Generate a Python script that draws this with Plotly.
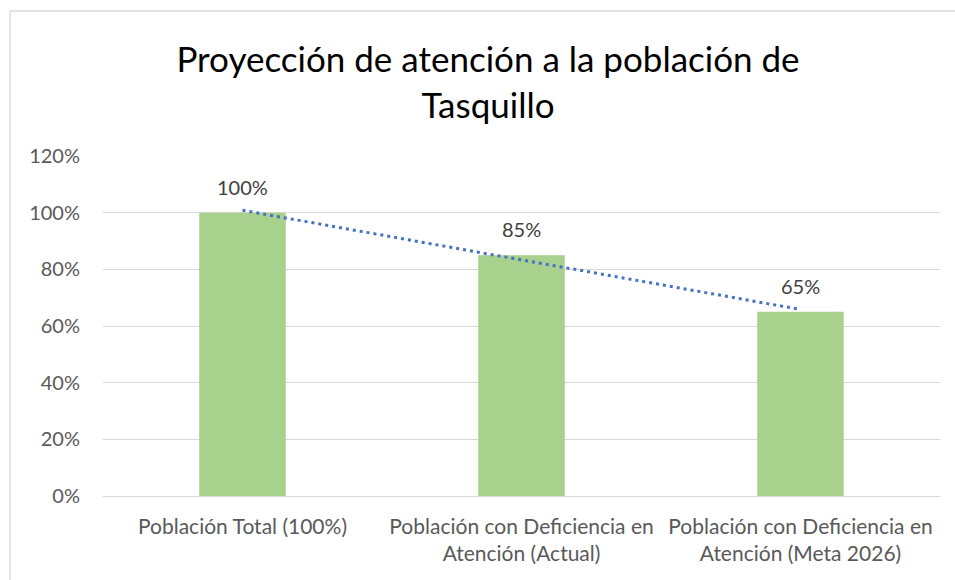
import numpy as np
import plotly.graph_objects as go

categories = [
    "Población Total (100%)",
    "Población con Deficiencia en<br>Atención (Actual)",
    "Población con Deficiencia en<br>Atención (Meta 2026)",
]
values = [1.00, 0.85, 0.65]
value_labels = ["100%", "85%", "65%"]
y_ticks = [0, 0.2, 0.4, 0.6, 0.8, 1.0, 1.2]
y_tick_labels = ["0%", "20%", "40%", "60%", "80%", "100%", "120%"]
title_text = "Proyección de atención a la población de<br>Tasquillo"

# linear trendline (least squares) through the bar values
xi = np.arange(1, len(values) + 1)
slope, intercept = np.polyfit(xi, values, 1)
trend = list(slope * xi + intercept)

FONT = "Lato"
fig = go.Figure()
fig.add_trace(go.Bar(
    x=categories, y=values,
    marker=dict(color="#A9D18E", line=dict(width=0)),
    width=0.31, hoverinfo="skip",
))
fig.add_trace(go.Scatter(
    x=categories, y=trend, mode="lines",
    line=dict(color="#4472C4", width=3, dash="3px,4px"),
    hoverinfo="skip",
))
for c, v, t in zip(categories, values, value_labels):
    fig.add_annotation(x=c, y=v, text=t, showarrow=False, yanchor="bottom",
                       yshift=12, font=dict(family=FONT, size=20, color="#404040"))

W, H = 955, 580
L, R, T, B = 103, 15, 156, 84
pw, ph = W - L - R, H - T - B
fig.update_layout(
    width=W, height=H,
    margin=dict(l=L, r=R, t=T, b=B),
    paper_bgcolor="white", plot_bgcolor="white",
    showlegend=False,
    title=dict(text=title_text, x=488 / W, xanchor="center",
               y=1 - 72 / H, yanchor="top", yref="container",
               font=dict(family=FONT, size=35, color="#000000")),
    xaxis=dict(showgrid=False, showline=False, ticks="",
               tickfont=dict(family=FONT, size=21, color="#595959"),
               ticklabelstandoff=16),
    yaxis=dict(range=[0, 1.2], tickvals=y_ticks, ticktext=y_tick_labels,
               showgrid=True, gridcolor="#D9D9D9", gridwidth=1.3,
               zeroline=True, zerolinecolor="#D9D9D9", zerolinewidth=1.3,
               showline=False, ticks="",
               tickfont=dict(family=FONT, size=20, color="#595959"),
               ticklabelstandoff=22),
    shapes=[dict(type="rect", xref="paper", yref="paper",
                 x0=(10 - L) / pw, x1=1.5, y0=-1, y1=(H - B - 11) / ph,
                 line=dict(color="#D9D9D9", width=1.3), fillcolor="rgba(0,0,0,0)",
                 layer="below")],
)
fig.write_html("out.html", config={"displayModeBar": False},
               post_script="document.body.style.margin='0px';document.body.style.overflow='hidden';")
